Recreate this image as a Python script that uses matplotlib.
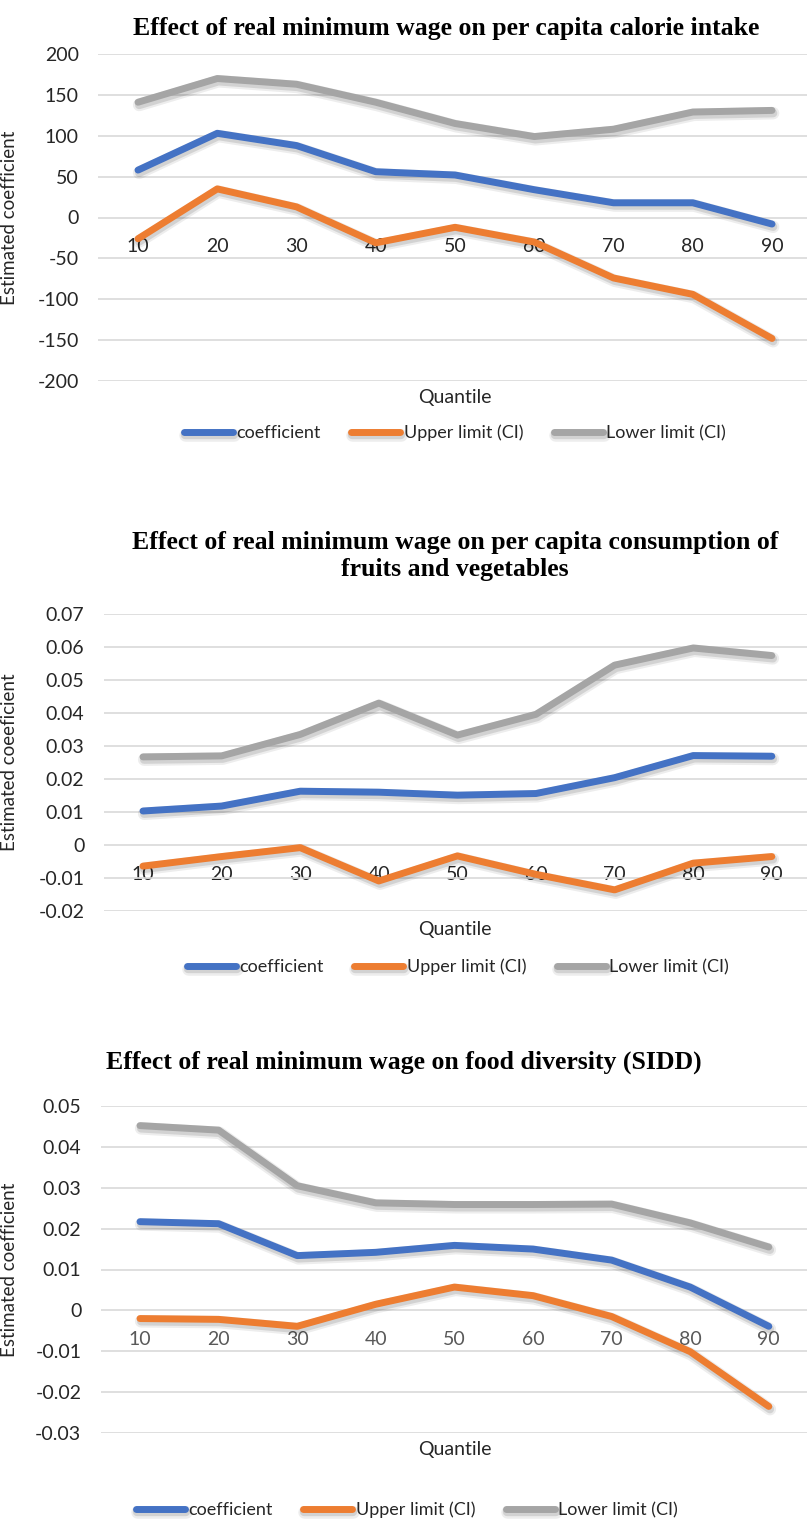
import numpy as np
import matplotlib.pyplot as plt
import matplotlib.patheffects as pe

quantiles = ['10', '20', '30', '40', '50', '60', '70', '80', '90']

# panel 1: calorie intake
cal_coef = [58, 103, 88, 56, 52, 34, 18, 18, -8]
cal_upper = [-26, 35, 13, -31, -12, -30, -74, -94, -148]
cal_lower = [141, 170, 163, 141, 115, 99, 108, 129, 131]

# panel 2: fruits and vegetables
fv_coef = [0.0103, 0.0118, 0.0163, 0.0160, 0.0151, 0.0156, 0.0204, 0.0271, 0.0269]
fv_upper = [-0.0064, -0.0035, -0.0008, -0.0109, -0.0033, -0.0089, -0.0136, -0.0055, -0.0035]
fv_lower = [0.0267, 0.0270, 0.0335, 0.0430, 0.0333, 0.0396, 0.0545, 0.0597, 0.0574]

# panel 3: food diversity
fd_coef = [0.0217, 0.0212, 0.0134, 0.0142, 0.0159, 0.0150, 0.0123, 0.0057, -0.0039]
fd_upper = [-0.0020, -0.0022, -0.0039, 0.0015, 0.0057, 0.0036, -0.0015, -0.0101, -0.0235]
fd_lower = [0.0452, 0.0441, 0.0305, 0.0263, 0.0259, 0.0259, 0.0260, 0.0214, 0.0155]

BLUE, ORANGE, GRAY = '#4472C4', '#ED7D31', '#A5A5A5'
SANS = ['Lato', 'DejaVu Sans']
SERIF = ['Liberation Serif', 'DejaVu Serif']

W, H = 807, 1520
fig = plt.figure(figsize=(W / 100, H / 100), dpi=100)


def px_axes(left, top, bottom):
    return fig.add_axes((left / W, 1 - bottom / H, (W - left) / W, (bottom - top) / H))


def shadow():
    # soft excel-like drop shadow
    return [pe.SimpleLineShadow(offset=(0.8, -2.0), alpha=0.07, shadow_color='k', linewidth=9),
            pe.SimpleLineShadow(offset=(0.8, -2.0), alpha=0.11, shadow_color='k', linewidth=6),
            pe.Normal()]


def draw(ax, coef, upper, lower, ylim, yticks, fmt, step, title, title_x, title_y, ylabel,
         qlab_y, leg_y, leg_x, xcol, left):
    x = np.arange(len(quantiles))
    ax.plot(x, coef, color=BLUE, lw=5, solid_capstyle='round', label='coefficient', path_effects=shadow(), zorder=3)
    ax.plot(x, upper, color=ORANGE, lw=5, solid_capstyle='round', label='Upper limit (CI)', path_effects=shadow(), zorder=3)
    ax.plot(x, lower, color=GRAY, lw=5, solid_capstyle='round', label='Lower limit (CI)', path_effects=shadow(), zorder=3)
    ax.set_ylim(*ylim)
    ax.set_xlim(-0.5, -0.5 + (W - left) / step)
    ax.set_yticks(yticks)
    ax.set_yticklabels([fmt(v) for v in yticks], fontsize=14, family=SANS, color='#262626')
    ax.grid(axis='y', color='#D9D9D9', lw=1.2)
    ax.set_axisbelow(True)
    for s in ['top', 'right', 'left']:
        ax.spines[s].set_visible(False)
    ax.spines['bottom'].set_position(('data', 0))
    ax.spines['bottom'].set_visible(False)
    ax.set_xticks(x)
    ax.set_xticklabels(quantiles, fontsize=14, family=SANS, color=xcol)
    ax.tick_params(axis='both', length=0)
    ax.tick_params(axis='x', pad=15)
    ax.tick_params(axis='y', pad=14)
    ax.set_ylabel(ylabel, fontsize=13.5, family=SANS, color='#262626')
    ax.yaxis.set_label_coords((18 - left) / (W - left), 0.5)
    fig.text(title_x / W, 1 - title_y / H, title, ha='center', va='center', fontsize=18.5,
             fontweight='bold', family=SERIF, linespacing=1.2)
    fig.text(455 / W, 1 - qlab_y / H, 'Quantile', ha='center', va='center', fontsize=14,
             family=SANS, color='#262626')
    leg = ax.legend(loc='center', bbox_to_anchor=(leg_x / W, 1 - leg_y / H), bbox_transform=fig.transFigure,
                    ncol=3, frameon=False, prop={'family': SANS, 'size': 13},
                    handlelength=2.7, handletextpad=0.2, columnspacing=1.7)
    for t in leg.get_texts():
        t.set_color('#262626')


ax1 = px_axes(98.4, 54, 381)
draw(ax1, cal_coef, cal_upper, cal_lower, (-200, 200), np.arange(-200, 201, 50),
     lambda v: f'{v:g}', 79.25, 'Effect of real minimum wage on per capita calorie intake', 446, 28,
     'Estimated coefficient', 398, 433, 455, '#262626', 98.4)

ax2 = px_axes(103.7, 614, 911)
draw(ax2, fv_coef, fv_upper, fv_lower, (-0.02, 0.07), np.round(np.arange(-0.02, 0.0701, 0.01), 2),
     lambda v: '0' if v == 0 else f'{v:g}', 78.6,
     'Effect of real minimum wage on per capita consumption of\nfruits and vegetables', 455, 556,
     'Estimated coeeficient', 929, 967, 458, '#262626', 103.7)

ax3 = px_axes(100.7, 1106, 1433)
draw(ax3, fd_coef, fd_upper, fd_lower, (-0.03, 0.05), np.round(np.arange(-0.03, 0.0501, 0.01), 2),
     lambda v: '0' if v == 0 else f'{v:g}', 78.6,
     'Effect of real minimum wage on food diversity (SIDD)', 404, 1062,
     'Estimated coefficient', 1450, 1510, 407, '#595959', 100.7)

fig.savefig('out.png', dpi=100, facecolor='white')
